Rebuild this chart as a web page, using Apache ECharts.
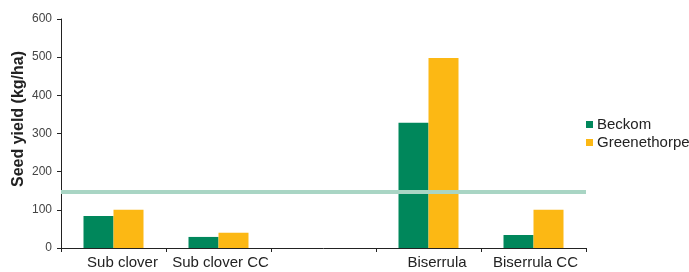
<!DOCTYPE html>
<html><head><meta charset="utf-8">
<script src="https://cdn.jsdelivr.net/npm/echarts@6/dist/echarts.min.js"></script>
<style>html,body{margin:0;padding:0;background:#fff}#c{width:689px;height:272px}</style>
</head><body><div id="c"></div>
<script>
const categories = ['Sub clover', 'Sub clover CC', '', 'Biserrula', 'Biserrula CC'];
const beckom = [84, 29, null, 328, 34];
const greenethorpe = [100, 40, null, 498, 100];
const referenceLine = 147;
const yTicks = {min: 0, max: 600, interval: 100};
const yTitle = 'Seed yield (kg/ha)';
// small horizontal nudges of the category labels (as placed in the original)
const labelShift = [18, 4, 0, 17, 4];

const chart = echarts.init(document.getElementById('c'), null, {renderer: 'canvas'});
chart.setOption({
  animation: false,
  textStyle: {fontFamily: 'Liberation Sans, Arial, sans-serif'},
  grid: {left: 61, top: 19, right: 103, bottom: 24, outerBoundsMode: 'none', containLabel: false},
  legend: {
    orient: 'vertical', left: 581, top: 112, itemWidth: 7, itemHeight: 7, itemGap: 3,
    icon: 'rect',
    textStyle: {fontSize: 15, color: '#222', padding: [0, 0, 0, -1]},
    data: ['Beckom', 'Greenethorpe']
  },
  graphic: [{
    type: 'text', x: 19, y: 119, rotation: Math.PI / 2,
    style: {
      text: yTitle, fill: '#222', align: 'center', verticalAlign: 'middle',
      font: 'bold 16px "Liberation Sans", Arial, sans-serif'
    }
  }],
  xAxis: {
    type: 'category',
    data: categories.map((c, i) => ({value: c, textStyle: {padding: [0, 0, 0, labelShift[i]]}})),
    axisLine: {lineStyle: {color: '#222', width: 1}},
    axisTick: {show: true, length: 4, alignWithLabel: false, lineStyle: {color: '#222'}},
    axisLabel: {fontSize: 15, color: '#222', margin: 7, interval: 0}
  },
  yAxis: {
    type: 'value', min: yTicks.min, max: yTicks.max, interval: yTicks.interval,
    axisLine: {show: true, lineStyle: {color: '#222', width: 1}},
    axisTick: {show: true, length: 4, lineStyle: {color: '#222'}},
    axisLabel: {fontSize: 12, color: '#444', margin: 9},
    splitLine: {show: false}
  },
  series: [
    {
      name: 'Beckom', type: 'bar', data: beckom, barWidth: 30, barGap: '0%',
      itemStyle: {color: '#00875b'},
      markLine: {
        silent: true, symbol: 'none', label: {show: false},
        lineStyle: {color: '#a9d5c4', width: 4, type: 'solid'},
        data: [{yAxis: referenceLine}]
      },
      z: 2
    },
    {
      name: 'Greenethorpe', type: 'bar', data: greenethorpe, barWidth: 30,
      itemStyle: {color: '#fcb814'}, z: 2
    }
  ]
});
</script></body></html>
